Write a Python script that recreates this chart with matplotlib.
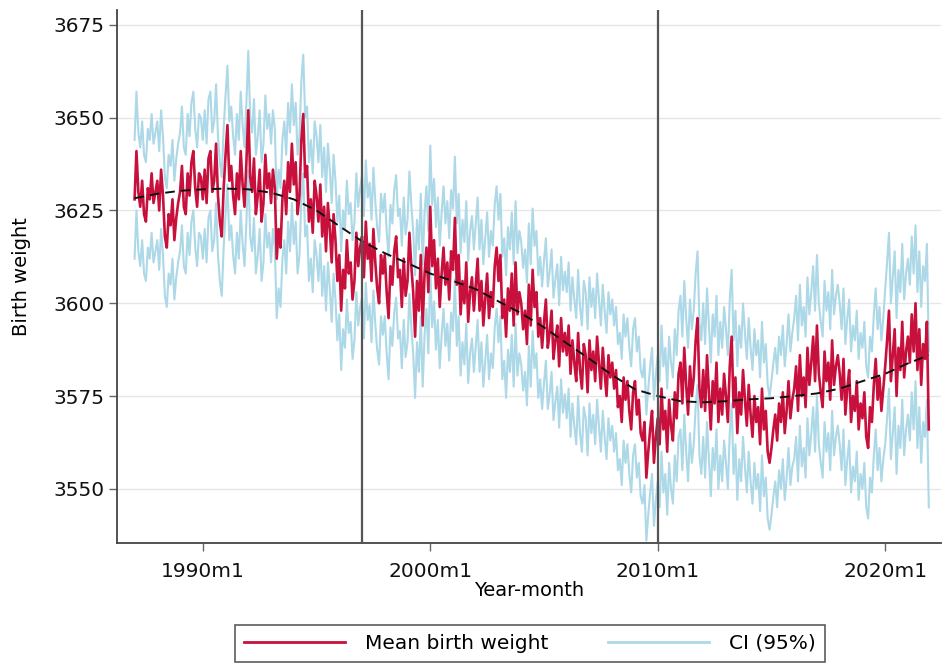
import matplotlib
matplotlib.use("Agg")
import matplotlib.pyplot as plt
from matplotlib.lines import Line2D
import numpy as np

# ---- data ----
start_year = 1987
mean_bw = [
    [3628, 3641, 3630, 3626, 3633, 3624, 3622, 3631, 3628, 3635, 3627, 3630],  # 1987
    [3633, 3625, 3636, 3629, 3618, 3615, 3624, 3621, 3628, 3617, 3623, 3627],  # 1988
    [3630, 3637, 3626, 3624, 3635, 3629, 3638, 3641, 3631, 3626, 3635, 3634],  # 1989
    [3628, 3636, 3627, 3639, 3641, 3630, 3633, 3643, 3629, 3622, 3618, 3631],  # 1990
    [3640, 3648, 3633, 3637, 3629, 3624, 3635, 3628, 3641, 3632, 3626, 3638],  # 1991
    [3652, 3634, 3630, 3639, 3624, 3629, 3636, 3622, 3627, 3640, 3631, 3635],  # 1992
    [3627, 3636, 3631, 3612, 3620, 3615, 3628, 3633, 3624, 3638, 3630, 3643],  # 1993
    [3632, 3638, 3624, 3629, 3644, 3651, 3634, 3637, 3622, 3628, 3619, 3633],  # 1994
    [3629, 3622, 3632, 3618, 3626, 3614, 3627, 3620, 3611, 3624, 3617, 3606],  # 1995
    [3613, 3598, 3609, 3604, 3617, 3608, 3611, 3601, 3606, 3619, 3610, 3615],  # 1996
    [3618, 3607, 3622, 3612, 3616, 3606, 3620, 3611, 3604, 3600, 3613, 3608],  # 1997
    [3613, 3603, 3596, 3610, 3605, 3614, 3618, 3607, 3609, 3599, 3612, 3602],  # 1998
    [3606, 3619, 3610, 3603, 3591, 3606, 3598, 3613, 3594, 3608, 3615, 3603],  # 1999
    [3626, 3610, 3617, 3604, 3612, 3599, 3608, 3615, 3605, 3611, 3601, 3614],  # 2000
    [3609, 3623, 3605, 3613, 3597, 3606, 3600, 3611, 3595, 3603, 3607, 3598],  # 2001
    [3605, 3612, 3598, 3606, 3594, 3601, 3608, 3596, 3603, 3599, 3610, 3615],  # 2002
    [3606, 3613, 3596, 3601, 3591, 3604, 3598, 3608, 3594, 3611, 3597, 3603],  # 2003
    [3600, 3593, 3598, 3589, 3605, 3594, 3609, 3599, 3603, 3591, 3596, 3588],  # 2004
    [3595, 3601, 3588, 3592, 3598, 3585, 3590, 3594, 3583, 3596, 3587, 3592],  # 2005
    [3586, 3594, 3581, 3590, 3584, 3579, 3592, 3582, 3577, 3589, 3586, 3576],  # 2006
    [3590, 3582, 3587, 3579, 3591, 3584, 3577, 3588, 3581, 3575, 3586, 3580],  # 2007
    [3584, 3577, 3582, 3572, 3575, 3568, 3580, 3574, 3579, 3571, 3566, 3576],  # 2008
    [3579, 3570, 3574, 3565, 3563, 3568, 3553, 3560, 3566, 3571, 3557, 3564],  # 2009
    [3569, 3562, 3577, 3566, 3571, 3560, 3574, 3567, 3563, 3576, 3569, 3581],  # 2010
    [3584, 3573, 3588, 3578, 3570, 3583, 3575, 3580, 3590, 3596, 3577, 3572],  # 2011
    [3582, 3571, 3586, 3576, 3566, 3579, 3573, 3584, 3568, 3577, 3570, 3581],  # 2012
    [3575, 3568, 3583, 3591, 3572, 3580, 3565, 3576, 3570, 3582, 3574, 3567],  # 2013
    [3578, 3570, 3564, 3575, 3568, 3572, 3562, 3577, 3566, 3571, 3560, 3557],  # 2014
    [3561, 3566, 3570, 3563, 3573, 3568, 3576, 3565, 3571, 3579, 3569, 3574],  # 2015
    [3577, 3583, 3571, 3586, 3575, 3580, 3572, 3588, 3578, 3584, 3591, 3579],  # 2016
    [3594, 3581, 3576, 3572, 3587, 3579, 3584, 3574, 3590, 3578, 3583, 3586],  # 2017
    [3581, 3574, 3585, 3570, 3577, 3582, 3568, 3575, 3571, 3579, 3566, 3573],  # 2018
    [3569, 3576, 3564, 3561, 3572, 3568, 3578, 3585, 3574, 3580, 3571, 3577],  # 2019
    [3583, 3590, 3598, 3579, 3586, 3593, 3575, 3588, 3582, 3595, 3580, 3587],  # 2020
    [3591, 3584, 3597, 3587, 3600, 3582, 3593, 3578, 3589, 3585, 3595, 3566],  # 2021
]
# CI half-width per year (1987..2021)
ci_halfwidth = [16, 16, 16, 16, 16, 16, 16, 16, 16, 16,
                16.5, 16.5, 16.5, 16.5, 16.5, 16.5, 16.5, 16.5, 16.5,
                17, 17, 17, 17, 17,
                18, 18, 18, 18, 18,
                19, 19, 19, 19,
                21, 21]
# smooth trend (dashed), at January of each year, plus end point
trend_years = list(range(1987, 2022)) + [2021.92]
trend_vals = [3628.3, 3629.5, 3630.3, 3630.7, 3630.9, 3630.7, 3629.8, 3628.0,
              3625.0, 3620.8, 3616.7, 3613.5, 3610.8, 3608.0, 3606.0, 3603.8,
              3600.5, 3597.3, 3593.5, 3589.2, 3585.0, 3580.6, 3576.8, 3575.0,
              3573.6, 3573.3, 3573.6, 3574.1, 3574.4, 3575.0, 3575.7, 3577.0,
              3579.0, 3581.0, 3583.8, 3586.0]
vlines_years = [1997, 2010]
xtick_years = [1990, 2000, 2010, 2020]
ytick_vals = [3550, 3575, 3600, 3625, 3650, 3675]

# ---- build monthly series (Stata %tm: months since 1960m1) ----
def tm(year, month=1):
    return (year - 1960) * 12 + (month - 1)

mean_flat = np.array([v for row in mean_bw for v in row], dtype=float)
t = np.array([tm(start_year + i // 12, i % 12 + 1) for i in range(len(mean_flat))])
hw = np.repeat(np.array(ci_halfwidth, dtype=float), 12)[:len(mean_flat)]
upper = mean_flat + hw
lower = mean_flat - hw
trend_t = np.array([(y - 1960) * 12 for y in trend_years])

plt.rcParams['font.family'] = ['DejaVu Sans']
fig = plt.figure(figsize=(9.43, 6.72), dpi=100)
ax = fig.add_axes([0.124, 0.192, 0.874, 0.793])

red = '#c8103c'
blue = '#acd8e7'

ax.plot(t, upper, color=blue, lw=1.5, zorder=2)
ax.plot(t, lower, color=blue, lw=1.5, zorder=2)
ax.plot(t, mean_flat, color=red, lw=1.9, zorder=3)
ax.plot(trend_t, trend_vals, color='#111111', lw=1.4, ls=(0, (5, 3)), zorder=4)

for y in vlines_years:
    ax.axvline(tm(y), color='#555555', lw=1.6, zorder=5)

ax.set_xlim(314.7, 749.5)
ax.set_ylim(3535.4, 3679)
ax.set_yticks(ytick_vals)
ax.set_xticks([tm(y) for y in xtick_years])
ax.set_xticklabels([f"{y}m1" for y in xtick_years])
ax.yaxis.grid(True, color='#e6e6e6', lw=1.0)
ax.set_axisbelow(True)
for s in ['top', 'right']:
    ax.spines[s].set_visible(False)
for s in ['left', 'bottom']:
    ax.spines[s].set_color('#444444')
    ax.spines[s].set_linewidth(1.3)
ax.tick_params(axis='both', direction='out', length=6, width=1.0,
               color='#666666', labelsize=14.5, labelcolor='#111111')
ax.tick_params(axis='x', pad=8)
ax.tick_params(axis='y', pad=3)
ax.set_xlabel('Year-month', fontsize=14, labelpad=0)
ax.set_ylabel('Birth weight', fontsize=14, labelpad=16)

handles = [Line2D([], [], color=red, lw=2), Line2D([], [], color=blue, lw=2)]
leg = fig.legend(handles, ['Mean birth weight', 'CI (95%)'], loc='lower center',
                 bbox_to_anchor=(0.562, 0.0), ncol=2, frameon=True, fancybox=False,
                 fontsize=14.5, handlelength=5.0, columnspacing=3.0,
                 borderpad=0.45, handletextpad=1.0)
leg.get_frame().set_edgecolor('#333333')
leg.get_frame().set_linewidth(1.2)

fig.savefig('out.png', dpi=100)
